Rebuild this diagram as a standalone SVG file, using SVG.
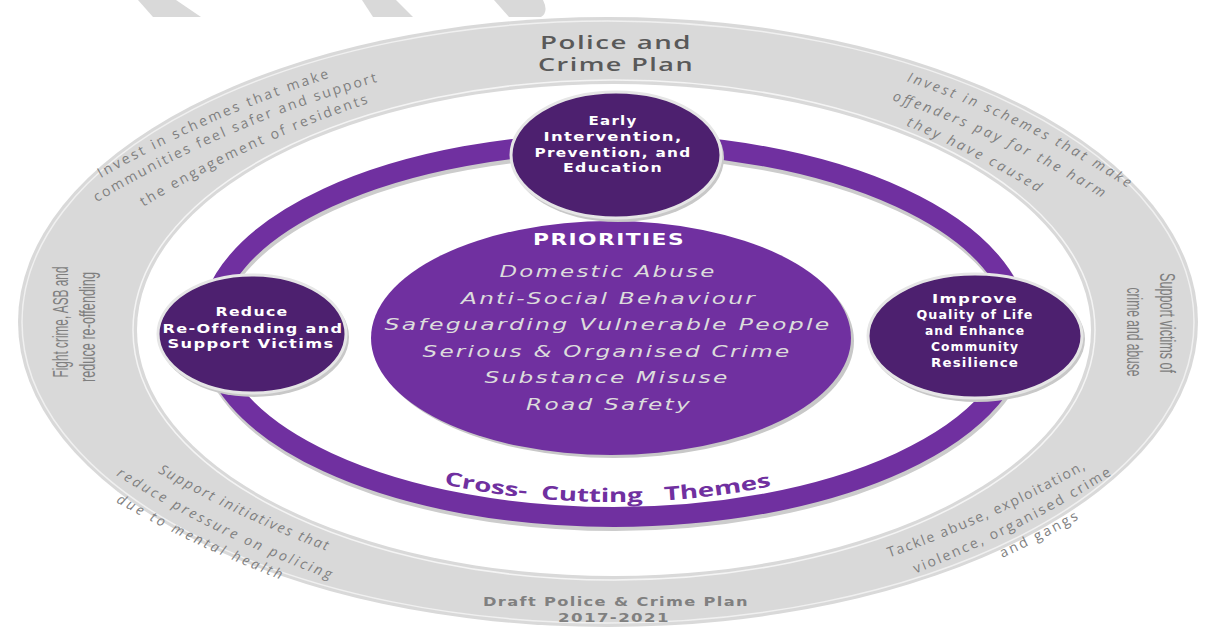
<svg xmlns="http://www.w3.org/2000/svg" width="1211" height="635" viewBox="0 0 1211 635">
<style>
.band{font-family:"Open Sans","DejaVu Sans",sans-serif;font-size:14px;fill:#7f7f7f}
.it{font-style:italic}
.side{font-family:"Liberation Sans","DejaVu Sans",sans-serif;font-size:22px;fill:#7f7f7f;text-anchor:middle}
.node text{font-family:"DejaVu Sans",sans-serif;font-weight:bold;font-size:12px;fill:#ffffff;text-anchor:middle;letter-spacing:1px}
.pri{font-family:"DejaVu Sans",sans-serif;font-style:italic;font-size:15.5px;fill:#dcdcdc;text-anchor:middle;letter-spacing:1.5px}
.title{font-family:"Open Sans","DejaVu Sans",sans-serif;font-weight:600;font-size:18.5px;fill:#595959;text-anchor:middle;letter-spacing:1px}
.foot{font-family:"DejaVu Sans",sans-serif;font-weight:bold;font-size:12px;fill:#808080;text-anchor:middle;letter-spacing:1px}
.circ{fill:#4d206f;stroke:#e6e6e6;stroke-width:3}
.shadow{fill:#c8c8c8}
</style>
<defs>
<path id="tl1" d="M101,178 A1200,1200 0 0 1 329,78"/>
<path id="tl2" d="M97,202 A1200,1200 0 0 1 377,82"/>
<path id="tl3" d="M143,207 A1100,1100 0 0 1 369,103"/>
<path id="tr1" d="M906,81 A1000,1000 0 0 1 1128,188"/>
<path id="tr2" d="M892,100 A1000,1000 0 0 1 1102,198"/>
<path id="tr3" d="M905,125 A1000,1000 0 0 1 1039,193"/>
<path id="bl1" d="M157,472 A1200,1200 0 0 0 327,551"/>
<path id="bl2" d="M114,474 A1200,1200 0 0 0 332,580"/>
<path id="bl3" d="M114,501 A1200,1200 0 0 0 282,580"/>
<path id="br1" d="M888,558 A1200,1200 0 0 0 1087,468"/>
<path id="br2" d="M914,574 A1200,1200 0 0 0 1113,474"/>
<path id="br3" d="M1000,559 A1200,1200 0 0 0 1081,518"/>
<path id="cc" d="M232,330 A380,172 0 0 0 992,330"/>
</defs>
<rect width="1211" height="635" fill="#ffffff"/>
<g fill="#d9d9d9">
<polygon points="138,0 176,0 201,17 153,17"/>
<polygon points="362,0 396,0 413,17 373,17"/>
<path d="M494,0 L543,0 Q549,12 541,17 L509,17 Z"/>
</g>
<g id="outer-ring">
<ellipse cx="608" cy="322" rx="590" ry="305" fill="#d9d9d9"/>
<ellipse cx="608" cy="322" rx="586" ry="301" fill="none" stroke="#f0f0f0" stroke-width="1.5"/>
<ellipse cx="614" cy="330" rx="481" ry="250" fill="none" stroke="#f4f4f4" stroke-width="1.5"/>
<ellipse cx="614" cy="330" rx="477" ry="246" fill="#ffffff"/>
</g>
<g id="ring-texts">
<text class="band"><textPath href="#tl1" startOffset="50%" text-anchor="middle" textLength="250" lengthAdjust="spacing">Invest in schemes that make</textPath></text>
<text class="band"><textPath href="#tl2" startOffset="50%" text-anchor="middle" textLength="306" lengthAdjust="spacing">communities feel safer and support</textPath></text>
<text class="band"><textPath href="#tl3" startOffset="50%" text-anchor="middle" textLength="248" lengthAdjust="spacing">the engagement of residents</textPath></text>
<text class="band it"><textPath href="#tr1" startOffset="50%" text-anchor="middle" textLength="246" lengthAdjust="spacing">Invest in schemes that make</textPath></text>
<text class="band it"><textPath href="#tr2" startOffset="50%" text-anchor="middle" textLength="232" lengthAdjust="spacing">offenders pay for the harm</textPath></text>
<text class="band it"><textPath href="#tr3" startOffset="50%" text-anchor="middle" textLength="148" lengthAdjust="spacing">they have caused</textPath></text>
<text class="band it"><textPath href="#bl1" startOffset="50%" text-anchor="middle" textLength="186" lengthAdjust="spacing">Support initiatives that</textPath></text>
<text class="band it"><textPath href="#bl2" startOffset="50%" text-anchor="middle" textLength="238" lengthAdjust="spacing">reduce pressure on policing</textPath></text>
<text class="band it"><textPath href="#bl3" startOffset="50%" text-anchor="middle" textLength="182" lengthAdjust="spacing">due to mental health</textPath></text>
<text class="band"><textPath href="#br1" startOffset="50%" text-anchor="middle" textLength="216" lengthAdjust="spacing">Tackle abuse, exploitation,</textPath></text>
<text class="band"><textPath href="#br2" startOffset="50%" text-anchor="middle" textLength="220" lengthAdjust="spacing">violence, organised crime</textPath></text>
<text class="band"><textPath href="#br3" startOffset="50%" text-anchor="middle" textLength="86" lengthAdjust="spacing">and gangs</textPath></text>
<text class="side" transform="translate(68,322) rotate(-90)" textLength="111" lengthAdjust="spacingAndGlyphs">Fight crime, ASB and</text>
<text class="side" transform="translate(95,327) rotate(-90)" textLength="110" lengthAdjust="spacingAndGlyphs">reduce re-offending</text>
<text class="side" transform="translate(1160,323) rotate(90)" textLength="100" lengthAdjust="spacingAndGlyphs">Support victims of</text>
<text class="side" transform="translate(1127,332) rotate(90)" textLength="89" lengthAdjust="spacingAndGlyphs">crime and abuse</text>
<text class="title" x="616" y="49" textLength="152" lengthAdjust="spacingAndGlyphs">Police and</text>
<text class="title" x="616" y="71" textLength="156" lengthAdjust="spacingAndGlyphs">Crime Plan</text>
<text class="foot" x="616" y="606" textLength="266" lengthAdjust="spacingAndGlyphs">Draft Police &amp; Crime Plan</text>
<text class="foot" x="614" y="622" textLength="112" lengthAdjust="spacingAndGlyphs">2017-2021</text>
</g>
<g id="cross-ring">
<ellipse cx="615" cy="333" rx="405" ry="187" fill="none" stroke="#cccccc" stroke-width="22"/>
<ellipse cx="614" cy="330" rx="405" ry="187" fill="none" stroke="#7030a0" stroke-width="20"/>
<text font-family="'Open Sans','DejaVu Sans',sans-serif" font-weight="bold" font-size="19" fill="#7030a0" style="white-space:pre" xml:space="preserve"><textPath href="#cc" startOffset="49.5%" text-anchor="middle" textLength="330" lengthAdjust="spacingAndGlyphs">Cross-  Cutting   Themes</textPath></text>
</g>
<g id="priorities">
<ellipse cx="614" cy="341" rx="240" ry="117" class="shadow"/>
<ellipse cx="611" cy="338" rx="240" ry="117" fill="#7030a0"/>
<text x="609" y="245" font-family="'DejaVu Sans',sans-serif" font-weight="bold" font-size="15" fill="#ffffff" text-anchor="middle" letter-spacing="1" textLength="152" lengthAdjust="spacingAndGlyphs">PRIORITIES</text>
<text class="pri" x="608" y="277" textLength="217" lengthAdjust="spacingAndGlyphs">Domestic Abuse</text>
<text class="pri" x="609" y="304" textLength="296" lengthAdjust="spacingAndGlyphs">Anti-Social Behaviour</text>
<text class="pri" x="608" y="330" textLength="447" lengthAdjust="spacingAndGlyphs">Safeguarding Vulnerable People</text>
<text class="pri" x="607" y="357" textLength="369" lengthAdjust="spacingAndGlyphs">Serious &amp; Organised Crime</text>
<text class="pri" x="607" y="383" textLength="245" lengthAdjust="spacingAndGlyphs">Substance Misuse</text>
<text class="pri" x="609" y="410" textLength="166" lengthAdjust="spacingAndGlyphs">Road Safety</text>
</g>
<g id="node-early" class="node">
<ellipse cx="618" cy="158" rx="106" ry="64" class="shadow"/>
<ellipse cx="616" cy="155" rx="105" ry="63" class="circ"/>
<text x="613" y="125" textLength="49" lengthAdjust="spacingAndGlyphs">Early</text>
<text x="613" y="141" textLength="139" lengthAdjust="spacingAndGlyphs">Intervention,</text>
<text x="613" y="157" textLength="157" lengthAdjust="spacingAndGlyphs">Prevention, and</text>
<text x="613" y="172" textLength="100" lengthAdjust="spacingAndGlyphs">Education</text>
</g>
<g id="node-reduce" class="node">
<ellipse cx="254" cy="337" rx="95" ry="60" class="shadow"/>
<ellipse cx="252" cy="334" rx="94" ry="59" class="circ"/>
<text x="252" y="316" textLength="73" lengthAdjust="spacingAndGlyphs">Reduce</text>
<text x="253" y="333" textLength="181" lengthAdjust="spacingAndGlyphs">Re-Offending and</text>
<text x="251" y="348" textLength="167" lengthAdjust="spacingAndGlyphs">Support Victims</text>
</g>
<g id="node-improve" class="node">
<ellipse cx="977" cy="339" rx="108" ry="63" class="shadow"/>
<ellipse cx="975" cy="336" rx="107" ry="62" class="circ"/>
<text x="975" y="303" textLength="86" lengthAdjust="spacingAndGlyphs">Improve</text>
<text x="975" y="319" textLength="117" lengthAdjust="spacingAndGlyphs">Quality of Life</text>
<text x="975" y="335" textLength="100" lengthAdjust="spacingAndGlyphs">and Enhance</text>
<text x="975" y="351" textLength="88" lengthAdjust="spacingAndGlyphs">Community</text>
<text x="975" y="367" textLength="88" lengthAdjust="spacingAndGlyphs">Resilience</text>
</g>
</svg>
